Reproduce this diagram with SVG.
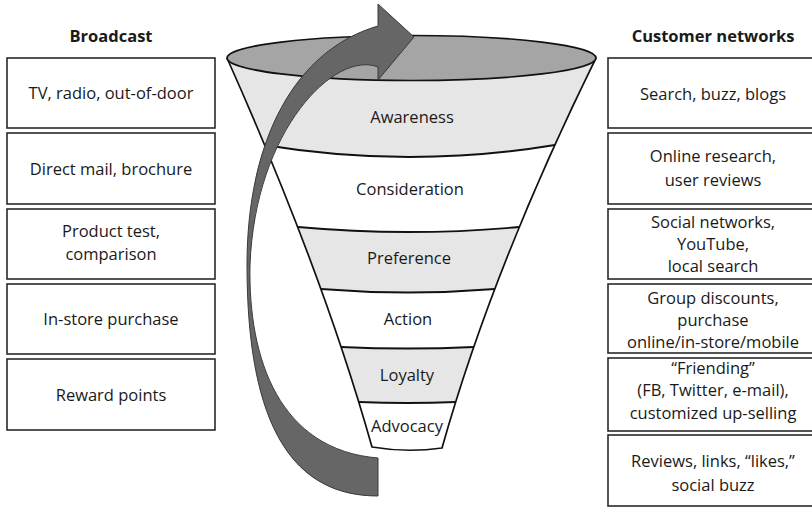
<svg xmlns="http://www.w3.org/2000/svg" width="812" height="507" viewBox="0 0 812 507">
<style>
  text { font-family: "Open Sans", "Liberation Sans", sans-serif; fill: #1a1a1a; text-anchor: middle; }
  .head { font-weight: bold; font-size: 16.5px; }
  .box rect { fill: #ffffff; stroke: #2a2a2a; stroke-width: 1.6; }
  .box text { font-size: 16.5px; }
  .stage text { font-size: 16.5px; }
  .band { fill: #e6e6e6; }
  .bound { fill: none; stroke: #111; stroke-width: 1.8; }
</style>
<defs>
  <clipPath id="funnelClip">
    <path d="M 227,58 Q 323,273 372,447 Q 407,453 442,448 Q 493,267 596,58 Z"/>
  </clipPath>
</defs>
<rect width="812" height="507" fill="#ffffff"/>

<text class="head" x="111" y="42">Broadcast</text>
<text class="head" x="713" y="42">Customer networks</text>

<g id="broadcast-1" class="box"><rect x="7" y="58" width="208" height="70"/><text x="111" y="99">TV, radio, out-of-door</text></g>
<g id="broadcast-2" class="box"><rect x="7" y="133" width="208" height="71"/><text x="111" y="175">Direct mail, brochure</text></g>
<g id="broadcast-3" class="box"><rect x="7" y="209" width="208" height="70"/><text x="111" y="237">Product test,</text><text x="111" y="260">comparison</text></g>
<g id="broadcast-4" class="box"><rect x="7" y="284" width="208" height="70"/><text x="111" y="325">In-store purchase</text></g>
<g id="broadcast-5" class="box"><rect x="7" y="359" width="208" height="71"/><text x="111" y="400.5">Reward points</text></g>

<g id="network-1" class="box"><rect x="608" y="58" width="210" height="70"/><text x="713" y="99.5">Search, buzz, blogs</text></g>
<g id="network-2" class="box"><rect x="608" y="133" width="210" height="71"/><text x="713" y="162">Online research,</text><text x="713" y="185.5">user reviews</text></g>
<g id="network-3" class="box"><rect x="608" y="209" width="210" height="70"/><text x="713" y="228">Social networks,</text><text x="713" y="250">YouTube,</text><text x="713" y="272">local search</text></g>
<g id="network-4" class="box"><rect x="608" y="284" width="210" height="69"/><text x="713" y="303.5">Group discounts,</text><text x="713" y="325.5">purchase</text><text x="713" y="347.5">online/in-store/mobile</text></g>
<g id="network-5" class="box"><rect x="608" y="358" width="210" height="73"/><text x="713" y="373.5">“Friending”</text><text x="713" y="396">(FB, Twitter, e-mail),</text><text x="713" y="418.5">customized up-selling</text></g>
<g id="network-6" class="box"><rect x="608" y="435" width="210" height="71"/><text x="713" y="466.5">Reviews, links, “likes,”</text><text x="713" y="490.5">social buzz</text></g>

<g id="funnel">
  <path d="M 227,58 Q 323,273 372,447 Q 407,453 442,448 Q 493,267 596,58 Z" fill="#ffffff"/>
  <g clip-path="url(#funnelClip)">
    <path class="band" d="M 200,40 L 620,40 L 620,145 L 555,145 Q 409.5,169 264,145 L 200,145 Z"/>
    <path class="band" d="M 200,227 L 298,227 Q 408.5,237 519,227 L 620,227 L 620,289 L 495,289 Q 408,296 321,289 L 200,289 Z"/>
    <path class="band" d="M 200,347 L 341,347 Q 407.5,350 474,347 L 620,347 L 620,402 L 456,402 Q 407.5,404 359,402 L 200,402 Z"/>
    <path class="bound" d="M 264,145 Q 409.5,169 555,145"/>
    <path class="bound" d="M 298,227 Q 408.5,237 519,227"/>
    <path class="bound" d="M 321,289 Q 408,296 495,289"/>
    <path class="bound" d="M 341,347 Q 407.5,350 474,347"/>
    <path class="bound" d="M 359,402 Q 407.5,404 456,402"/>
  </g>
  <path d="M 227,58 Q 323,273 372,447 Q 407,453 442,448 Q 493,267 596,58" fill="none" stroke="#111" stroke-width="1.7"/>
  <ellipse cx="411.5" cy="58" rx="184.5" ry="22.5" fill="#a5a5a5" stroke="#111" stroke-width="1.7"/>
</g>

<g id="stage-awareness" class="stage"><text x="412" y="123">Awareness</text></g>
<g id="stage-consideration" class="stage"><text x="410" y="195">Consideration</text></g>
<g id="stage-preference" class="stage"><text x="409" y="264">Preference</text></g>
<g id="stage-action" class="stage"><text x="408" y="325">Action</text></g>
<g id="stage-loyalty" class="stage"><text x="407" y="381">Loyalty</text></g>
<g id="stage-advocacy" class="stage"><text x="407" y="432">Advocacy</text></g>

<g id="connectors">
  <path id="cycle-arrow" d="M 378,496 C 295,496 247,430 247,265 C 247,140 295,50 378,26 L 378,4 L 414,37 L 378,80 L 378,67 C 335,50 255,130 250,265 C 248,360 280,450 378,458 Z" fill="#666666" stroke="#3a3a3a" stroke-width="1"/>
</g>
</svg>
